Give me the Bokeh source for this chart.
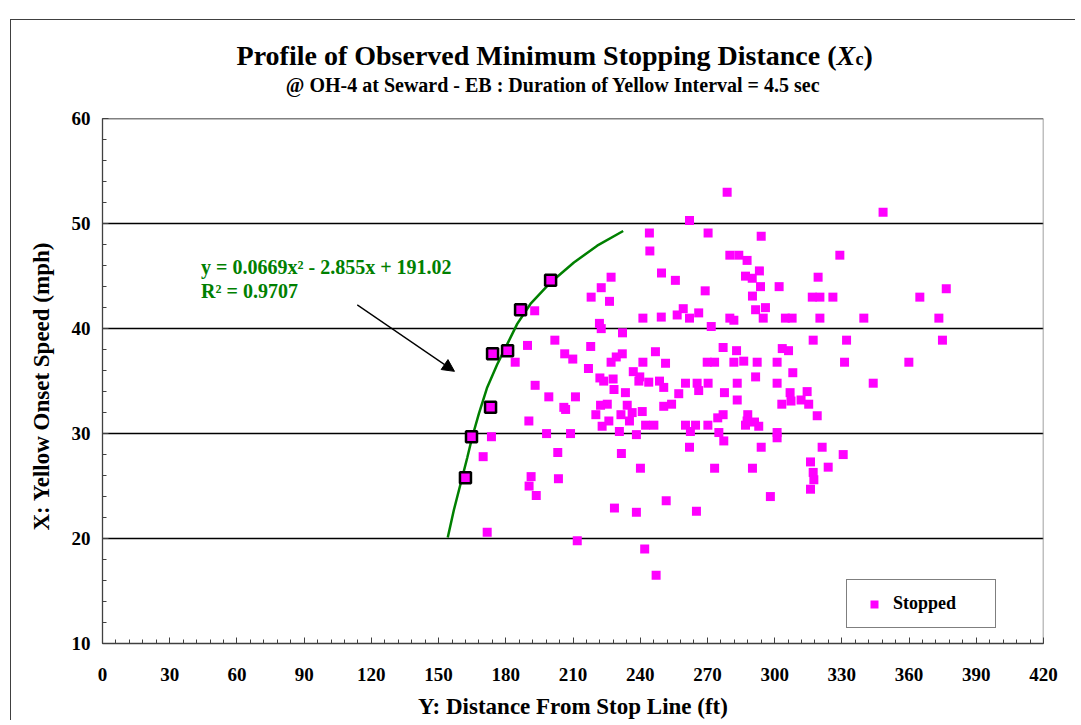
from bokeh.plotting import figure
from bokeh.models import (Range1d, SingleIntervalTicker, FixedTicker, Legend, LegendItem,
                          Label, Arrow, NormalHead, Title)
from bokeh.embed import file_html
from bokeh.resources import INLINE

# ---------------- data ----------------
stopped_dist = [192.9, 227.0, 222.6, 218.1, 226.3, 221.8, 222.6, 232.1, 189.7, 201.9,
                206.3, 209.9, 217.9, 184.2, 229.3, 232.0, 227.0, 216.9, 222.0, 223.7,
                227.9, 193.1, 228.3, 199.2, 211.1, 205.9, 206.7, 222.3, 225.3, 220.2,
                226.0, 223.0, 231.4, 190.3, 173.6, 198.2, 208.9, 230.7, 169.9, 203.2,
                231.6, 191.3, 190.4, 193.6, 203.5, 228.5, 171.7, 211.9, 278.8, 262.0,
                244.1, 270.3, 294.0, 244.3, 280.0, 284.0, 287.7, 249.5, 255.7, 287.0,
                290.0, 293.2, 293.7, 302.0, 269.0, 290.1, 259.2, 256.5, 266.1, 262.0,
                241.2, 249.4, 291.5, 295.9, 280.0, 281.8, 294.9, 304.8, 307.8, 271.7,
                246.8, 241.2, 251.3, 277.0, 283.0, 269.9, 273.2, 281.8, 286.2, 292.2,
                301.1, 303.4, 306.2, 236.9, 239.8, 291.5, 239.4, 243.8, 248.6, 250.5,
                260.2, 265.4, 270.3, 283.3, 301.1, 266.1, 233.4, 257.2, 277.6, 283.3,
                306.9, 307.3, 303.2, 234.2, 254.0, 250.5, 236.4, 240.9, 235.2, 274.6,
                277.0, 288.0, 287.7, 242.4, 246.1, 260.2, 264.7, 262.4, 270.2, 287.0,
                291.0, 292.9, 238.3, 275.1, 277.3, 301.1, 301.1, 262.0, 294.0, 240.1,
                273.2, 290.1, 298.1, 251.6, 238.3, 265.1, 242.0, 247.1, 348.4, 329.1,
                319.4, 376.6, 316.8, 320.2, 326.0, 364.8, 320.2, 339.8, 373.3, 317.2,
                332.1, 374.9, 331.2, 359.9, 308.1, 344.0, 314.5, 311.8, 315.2, 319.0,
                321.2, 330.6, 316.0, 323.9, 317.2, 317.5, 316.0]
stopped_speed = [41.7, 44.9, 43.9, 43.0, 42.6, 40.5, 40.0, 39.6, 38.4, 38.9,
                 37.6, 37.1, 38.3, 36.8, 37.3, 37.6, 36.8, 36.2, 35.3, 35.0,
                 35.2, 34.6, 34.2, 33.5, 33.5, 32.5, 32.3, 32.7, 32.8, 31.8,
                 31.2, 30.7, 31.8, 31.2, 29.7, 30.0, 30.0, 30.2, 27.8, 28.2,
                 28.1, 25.9, 25.0, 24.1, 25.7, 22.9, 20.6, 19.8, 53.0, 50.3,
                 49.1, 49.1, 48.8, 47.4, 47.0, 47.0, 46.5, 45.3, 44.6, 45.0,
                 44.8, 45.5, 44.0, 44.0, 43.6, 43.1, 41.9, 41.3, 41.5, 41.0,
                 41.0, 41.1, 41.8, 42.0, 41.0, 40.8, 41.0, 41.0, 41.0, 40.2,
                 37.8, 36.8, 36.7, 38.2, 37.9, 36.8, 36.8, 36.8, 36.9, 36.8,
                 36.8, 38.1, 37.9, 35.9, 35.4, 35.4, 35.0, 34.9, 35.0, 34.4,
                 34.8, 34.8, 34.8, 34.8, 34.8, 34.1, 33.9, 33.8, 33.9, 33.2,
                 33.9, 33.1, 32.8, 32.7, 32.8, 32.6, 32.0, 32.1, 31.2, 31.5,
                 31.8, 31.8, 31.2, 30.8, 30.8, 30.8, 30.8, 30.2, 30.8, 30.8,
                 31.1, 30.7, 29.9, 30.1, 29.3, 30.1, 29.6, 28.7, 28.7, 26.7,
                 26.7, 26.7, 24.0, 23.6, 22.5, 22.6, 19.0, 16.5, 51.1, 47.0,
                 44.9, 43.8, 43.0, 43.0, 43.0, 43.0, 41.0, 41.0, 41.0, 38.9,
                 38.9, 38.9, 36.8, 36.8, 35.8, 34.8, 34.0, 33.2, 32.8, 31.7,
                 28.7, 28.0, 27.3, 26.8, 26.3, 25.6, 24.7]

min_dist = [162.0, 164.7, 173.2, 174.1, 180.8, 186.6, 200.0]
min_speed = [25.8, 29.7, 32.5, 37.6, 37.9, 41.8, 44.6]

fit_dist = [154.1, 156.8, 159.8, 162.8, 165.0, 168.0, 171.7, 176.2, 180.6, 185.1,
            191.0, 200.0, 210.4, 220.8, 232.4]
fit_speed = [20.1, 22.7, 25.2, 27.7, 29.65, 31.9, 34.4, 36.6, 38.5, 40.45,
             42.35, 44.4, 46.3, 47.9, 49.3]

x_limits = [0, 420]
y_limits = [10, 60]
x_tick_interval = 30
y_tick_interval = 10
y_gridlines = [20, 30, 40, 50]

SERIF = "Liberation Serif"

# frame extends above 60 so the titles can sit inside it
p = figure(width=1065, height=701, output_backend="svg", toolbar_location=None,
           x_range=Range1d(x_limits[0], x_limits[1]), y_range=Range1d(10, 68.5),
           min_border_left=91, min_border_top=9, min_border_right=33,
           min_border_bottom=78, background_fill_color="white",
           border_fill_color="white")
p.styles = {"margin-top": "19px", "margin-left": "10px",
            "border-top": "1px solid #404040", "border-left": "1px solid #404040"}

p.outline_line_color = None

p.xgrid.visible = False
p.ygrid.ticker = FixedTicker(ticks=y_gridlines)
p.ygrid.grid_line_color = "black"
p.ygrid.grid_line_width = 1.3

p.xaxis.ticker = SingleIntervalTicker(interval=x_tick_interval, num_minor_ticks=5)
p.yaxis.ticker = SingleIntervalTicker(interval=y_tick_interval, num_minor_ticks=5)
p.yaxis.bounds = (y_limits[0], y_limits[1])

for ax in (p.xaxis[0], p.yaxis[0]):
    ax.axis_line_color = "#404040"
    ax.axis_line_width = 1.3
    ax.major_tick_line_color = "#404040"
    ax.minor_tick_line_color = "#404040"
    ax.major_tick_in = 6
    ax.major_tick_out = 0
    ax.minor_tick_in = 4
    ax.minor_tick_out = 0
    ax.major_label_text_font = SERIF
    ax.major_label_text_font_style = "bold"
    ax.major_label_text_font_size = "19px"
    ax.major_label_text_color = "black"
    ax.axis_label_text_font = SERIF
    ax.axis_label_text_font_style = "bold"
    ax.axis_label_text_font_size = "23px"
    ax.axis_label_text_color = "black"

p.xaxis.axis_label = "Y: Distance From Stop Line (ft)"
p.xaxis.major_label_standoff = 24
p.xaxis.axis_label_standoff = 10
p.yaxis.major_label_standoff = 12

# y-axis title, centred on the 10..60 span rather than on the whole frame
p.add_layout(Title(text="X: Yellow Onset Speed (mph)", align="left", offset=113,
                   standoff=30, text_font=SERIF, text_font_style="bold",
                   text_font_size="23px", text_color="black"), "left")

# plot-area border (top and right)
p.segment(x0=[x_limits[0], x_limits[1]], y0=[y_limits[1], y_limits[0]],
          x1=[x_limits[1], x_limits[1]], y1=[y_limits[1], y_limits[1]],
          line_color="#808080", line_width=1.5)

# scatter of stopped vehicles
r_stop = p.scatter(stopped_dist, stopped_speed, marker="square", size=9,
                   fill_color="#FF00FF", line_color=None)

# fitted curve
p.line(fit_dist, fit_speed, line_color="#008000", line_width=2.5)

# minimum points (black-bordered)
p.scatter(min_dist, min_speed, marker="square", size=11, fill_color="#FF00FF",
          line_color="black", line_width=2.5)

legend = Legend(items=[LegendItem(label="Stopped", renderers=[r_stop])],
                location=(744, 15), padding=13, spacing=0, margin=0,
                glyph_width=28, glyph_height=20, label_standoff=5,
                label_width=89, label_height=20,
                border_line_color="black", border_line_width=1.3,
                background_fill_color="white", background_fill_alpha=1,
                label_text_font=SERIF, label_text_font_style="bold",
                label_text_font_size="18px", label_text_color="black")
p.add_layout(legend)

# titles
p.add_layout(Label(x=327.6, y=66.0, text="Profile of Observed Minimum Stopping Distance (",
                   text_align="right", text_baseline="alphabetic", text_font=SERIF,
                   text_font_style="bold", text_font_size="28px", text_color="black"))
p.add_layout(Label(x=327.6, y=66.0, text="X", text_align="left",
                   text_baseline="alphabetic", text_font=SERIF,
                   text_font_style="bold italic", text_font_size="28px", text_color="black"))
p.add_layout(Label(x=336.1, y=65.7, text="c", text_align="left",
                   text_baseline="alphabetic", text_font=SERIF,
                   text_font_style="bold", text_font_size="18px", text_color="black"))
p.add_layout(Label(x=339.7, y=66.0, text=")", text_align="left",
                   text_baseline="alphabetic", text_font=SERIF,
                   text_font_style="bold", text_font_size="28px", text_color="black"))
p.add_layout(Label(x=201.1, y=63.25,
                   text="@ OH-4 at Seward - EB : Duration of Yellow Interval = 4.5 sec",
                   text_align="center", text_baseline="alphabetic", text_font=SERIF,
                   text_font_style="bold", text_font_size="20px", text_color="black"))

# trendline equation
p.add_layout(Label(x=44.0, y=45.9, text="y = 0.0669x\u00b2 - 2.855x + 191.02",
                   text_align="left", text_baseline="alphabetic", text_font=SERIF,
                   text_font_style="bold", text_font_size="20px", text_color="#008000"))
p.add_layout(Label(x=44.0, y=43.6, text="R\u00b2 = 0.9707",
                   text_align="left", text_baseline="alphabetic", text_font=SERIF,
                   text_font_style="bold", text_font_size="20px", text_color="#008000"))

p.add_layout(Arrow(end=NormalHead(size=12, fill_color="black", line_color="black"),
                   x_start=113.7, y_start=42.26, x_end=157.1, y_end=35.93,
                   line_color="black", line_width=1.3))

open("out.html", "w").write(file_html(p, INLINE))
